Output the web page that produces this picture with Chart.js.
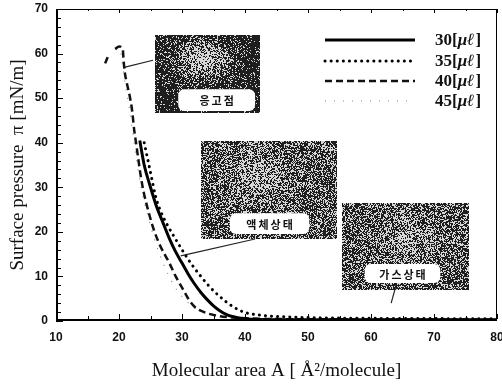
<!DOCTYPE html>
<html>
<head>
<meta charset="utf-8">
<script src="https://cdn.jsdelivr.net/npm/chart.js@4.4.1/dist/chart.umd.min.js"></script>
<style>
html, body { margin: 0; padding: 0; background: #fff; }
</style>
</head>
<body>
<canvas id="myChart" width="502" height="385"></canvas>
<script>
// isotherm curves (x = molecular area, y = surface pressure)
const area30 = [23.3, 24, 25, 26, 27, 28, 29, 30, 31, 32, 33, 34, 35, 36, 37, 38, 40, 45, 80];
const press30 = [40.5, 35, 30, 25.5, 22, 18.5, 15.5, 13, 10.5, 8.3, 6.4, 4.8, 3.4, 2.3, 1.5, 1, 0.5, 0.3, 0.3];

const area35 = [24, 24.6, 25.2, 25.8, 26.5, 27.5, 28.5, 30, 31, 32, 33, 34, 35, 36, 37, 38, 39, 40, 42, 44, 47, 52, 60, 80];
const press35 = [40, 36, 32, 28, 25, 22, 19.5, 16, 13.8, 11.8, 10, 8.3, 6.8, 5.5, 4.3, 3.3, 2.5, 1.9, 1.4, 1.1, 0.9, 0.7, 0.6, 0.5];

const area40 = [17.8, 18.2, null, 19.4, 20, 20.6, 20.7, 20.9, 21.3, 21.7, 22.1, 22.4, 22.7, 23, 23.4, 23.9, 24.6, 25.4, 26.5, 28, 29, 30.2, 31, 32, 33.5, 35.5, 38, 42, 50, 80];
const press40 = [57.8, 59.2, null, 61, 61.6, 61, 59, 56, 53, 50.5, 47, 43, 40, 37, 33, 29, 25, 21, 17, 13, 10, 7, 5, 3.2, 2, 1.2, 0.8, 0.5, 0.4, 0.3];

const area45 = [20.3, 20.6, 21, 21.6, 22.2, 22.8, 23.5, 24.5, 25.7, 27, 28.5, 30, 31.5, 33, 35, 38, 45, 80];
const press45 = [60, 57, 53, 48, 42, 36, 30, 24, 18, 13, 8.5, 5.5, 3.5, 2.3, 1.5, 1, 0.6, 0.4];

const seriesNames = ['30', '35', '40', '45'];
const phaseNames = ['응고점', '액체상태', '가스상태'];

const xTicks = [10, 20, 30, 40, 50, 60, 70, 80];
const yTicks = [0, 10, 20, 30, 40, 50, 60, 70];

function toPoints(xs, ys) {
  return xs.map((x, i) => (x === null ? { x: NaN, y: NaN } : { x: x, y: ys[i] }));
}

// photo insets, in data units
const insets = [
  { box: [25.7, 64.2, 42.4, 46.7], pill: [29.4, 52.0, 41.6, 47.1], line: [25.4, 58.5, 20.8, 56.9], base: 0.12, light: 0.65, cx: 0.45, cy: 0.3 },
  { box: [33.0, 40.4, 54.6, 18.4], pill: [37.6, 24.2, 50.2, 19.5], line: [41.6, 18.4, 29.8, 14.6], base: 0.36, light: 0.25, cx: 0.4, cy: 0.35 },
  { box: [55.4, 26.5, 75.6, 7.0], pill: [59.0, 12.8, 71.0, 8.5], line: [64.0, 8.1, 63.2, 4.0], base: 0.36, light: 0.25, cx: 0.5, cy: 0.4 }
];

function hash(x, y) {
  const s = Math.sin(x * 12.9898 + y * 78.233) * 43758.5453;
  return s - Math.floor(s);
}

function texture(ctx, x, y, w, h, ins) {
  const img = ctx.createImageData(w, h);
  for (let j = 0; j < h; j++) {
    for (let i = 0; i < w; i++) {
      const u = i / w - ins.cx, v = j / h - ins.cy;
      const b = ins.base + ins.light * Math.exp(-(u * u + v * v) / 0.06);
      const c = hash(i + x, j + y) < b ? 215 : 30;
      const k = (j * w + i) * 4;
      img.data[k] = c; img.data[k + 1] = c; img.data[k + 2] = c; img.data[k + 3] = 255;
    }
  }
  ctx.putImageData(img, x, y);
}

function roundRect(ctx, x, y, w, h, r) {
  ctx.beginPath();
  ctx.moveTo(x + r, y);
  ctx.arcTo(x + w, y, x + w, y + h, r);
  ctx.arcTo(x + w, y + h, x, y + h, r);
  ctx.arcTo(x, y + h, x, y, r);
  ctx.arcTo(x, y, x + w, y, r);
  ctx.closePath();
}

const insetPlugin = {
  id: 'insets',
  beforeDatasetsDraw(chart) {
    const ctx = chart.ctx, xs = chart.scales.x, ys = chart.scales.y;
    insets.forEach((ins, n) => {
      const x0 = Math.round(xs.getPixelForValue(ins.box[0]));
      const y0 = Math.round(ys.getPixelForValue(ins.box[1]));
      const x1 = Math.round(xs.getPixelForValue(ins.box[2]));
      const y1 = Math.round(ys.getPixelForValue(ins.box[3]));
      texture(ctx, x0, y0, x1 - x0, y1 - y0, ins);
      const px0 = xs.getPixelForValue(ins.pill[0]);
      const py0 = ys.getPixelForValue(ins.pill[1]);
      const px1 = xs.getPixelForValue(ins.pill[2]);
      const py1 = ys.getPixelForValue(ins.pill[3]);
      ctx.save();
      roundRect(ctx, px0, py0, px1 - px0, py1 - py0, 6);
      ctx.fillStyle = '#fff';
      ctx.fill();
      ctx.fillStyle = '#111';
      ctx.font = 'bold 11px "Noto Sans CJK KR"';
      ctx.letterSpacing = '2px';
      ctx.textAlign = 'center';
      ctx.textBaseline = 'middle';
      ctx.fillText(phaseNames[n], (px0 + px1) / 2 + 1, (py0 + py1) / 2 + 1);
      ctx.beginPath();
      ctx.moveTo(xs.getPixelForValue(ins.line[0]), ys.getPixelForValue(ins.line[1]));
      ctx.lineTo(xs.getPixelForValue(ins.line[2]), ys.getPixelForValue(ins.line[3]));
      ctx.strokeStyle = '#222';
      ctx.lineWidth = 1.2;
      ctx.stroke();
      ctx.restore();
    });
  },
  afterDraw(chart) {
    const ctx = chart.ctx, a = chart.chartArea, xs = chart.scales.x, ys = chart.scales.y;
    ctx.save();
    ctx.strokeStyle = '#000';
    // frame
    ctx.lineWidth = 1;
    ctx.beginPath();
    ctx.moveTo(a.left, a.top + 0.5); ctx.lineTo(a.right, a.top + 0.5);
    ctx.moveTo(a.right - 0.5, a.top); ctx.lineTo(a.right - 0.5, a.bottom);
    ctx.stroke();
    ctx.lineWidth = 2;
    ctx.beginPath();
    ctx.moveTo(a.left + 1, a.top); ctx.lineTo(a.left + 1, a.bottom);
    ctx.moveTo(a.left, a.bottom - 1); ctx.lineTo(a.right, a.bottom - 1);
    ctx.stroke();
    // inward ticks
    ctx.lineWidth = 1;
    ctx.beginPath();
    for (let v = 0; v <= 70; v += 2) {
      const py = Math.round(ys.getPixelForValue(v)) + 0.5;
      const len = v % 10 === 0 ? 5 : 3;
      ctx.moveTo(a.left, py); ctx.lineTo(a.left + 2 + len, py);
    }
    for (let v = 10; v <= 80; v += 5) {
      const px = Math.round(xs.getPixelForValue(v)) + 0.5;
      const len = v % 10 === 0 ? 5 : 3;
      ctx.moveTo(px, a.bottom - 2); ctx.lineTo(px, a.bottom - 2 - len);
      ctx.moveTo(px, a.top); ctx.lineTo(px, a.top + len - 1);
    }
    ctx.stroke();
    // legend
    const rows = [40, 61, 81, 101];
    chart.data.datasets.forEach((ds, i) => {
      const y = rows[i];
      ctx.save();
      ctx.strokeStyle = ds.borderColor;
      ctx.lineWidth = ds.borderWidth;
      ctx.setLineDash(ds.borderDash || []);
      ctx.lineCap = ds.borderCapStyle || 'butt';
      ctx.beginPath();
      ctx.moveTo(325, y); ctx.lineTo(415, y);
      ctx.stroke();
      ctx.restore();
      ctx.fillStyle = '#111';
      ctx.textBaseline = 'middle';
      ctx.textAlign = 'left';
      let x = 435;
      ctx.font = 'bold 17px "Liberation Serif"';
      const head = seriesNames[i] + '[';
      ctx.fillText(head, x, y + 1);
      x += ctx.measureText(head).width;
      ctx.font = 'bold italic 17px "Liberation Serif"';
      ctx.fillText('μℓ', x, y + 1);
      x += ctx.measureText('μℓ').width + 1;
      ctx.font = 'bold 17px "Liberation Serif"';
      ctx.fillText(']', x, y + 1);
    });
    ctx.restore();
  }
};

const ctx = document.getElementById('myChart');
new Chart(ctx, {
  type: 'scatter',
  data: {
    datasets: [
      { label: '30', data: toPoints(area30, press30), borderColor: '#000', borderWidth: 3, borderDash: [] },
      { label: '35', data: toPoints(area35, press35), borderColor: '#000', borderWidth: 3, borderDash: [0.1, 6], borderCapStyle: 'round' },
      { label: '40', data: toPoints(area40, press40), borderColor: '#111', borderWidth: 2.5, borderDash: [7, 4] },
      { label: '45', data: toPoints(area45, press45), borderColor: '#888', borderWidth: 1.2, borderDash: [1, 8] }
    ].map(d => Object.assign(d, { showLine: true, pointRadius: 0, fill: false, cubicInterpolationMode: 'monotone', spanGaps: false }))
  },
  options: {
    responsive: false,
    animation: false,
    devicePixelRatio: 1,
    layout: { padding: { left: 0, right: 5, top: 9, bottom: 0 } },
    plugins: { legend: { display: false }, tooltip: { enabled: false } },
    scales: {
      x: {
        type: 'linear', min: 10, max: 80,
        afterFit: s => { s.height = 64; s.paddingLeft = 0; s.paddingRight = 0; },
        afterBuildTicks: s => { s.ticks = xTicks.map(v => ({ value: v })); },
        grid: { display: false, drawTicks: false },
        border: { display: false },
        ticks: { padding: 9, color: '#111', font: { family: 'Liberation Sans', size: 12, weight: 'bold' }, maxRotation: 0 },
        title: { display: true, text: 'Molecular area A [ Å²/molecule]', color: '#111', font: { family: 'Liberation Serif', size: 19 }, padding: { top: 0, bottom: 3 } }
      },
      y: {
        type: 'linear', min: 0, max: 70,
        afterFit: s => { s.width = 56; s.paddingTop = 0; s.paddingBottom = 0; },
        afterBuildTicks: s => { s.ticks = yTicks.map(v => ({ value: v })); },
        grid: { display: false, drawTicks: false },
        border: { display: false },
        ticks: { padding: 8, color: '#111', font: { family: 'Liberation Sans', size: 12, weight: 'bold' } },
        title: { display: true, text: 'Surface pressure  π [mN/m]', color: '#111', font: { family: 'Liberation Serif', size: 19 }, padding: { top: 7, bottom: 0 } }
      }
    }
  },
  plugins: [insetPlugin]
});
</script>
</body>
</html>
